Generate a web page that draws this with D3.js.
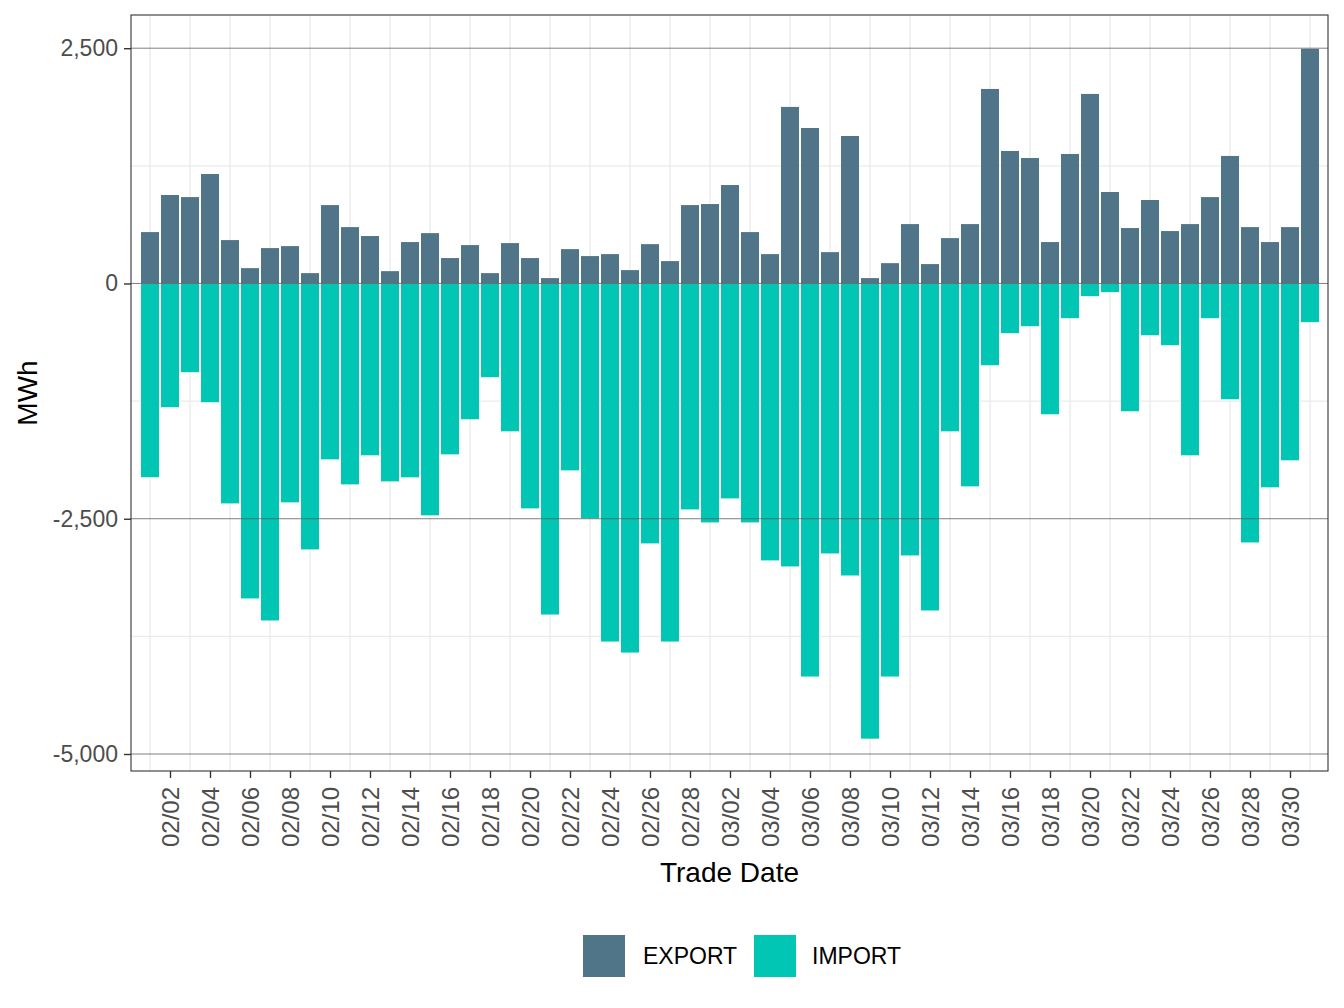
<!DOCTYPE html>
<html>
<head>
<meta charset="utf-8">
<script src="https://cdn.jsdelivr.net/npm/d3@7"></script>
<style>
  html, body { margin: 0; padding: 0; background: #ffffff; }
  svg { display: block; font-family: "Liberation Sans", Arial, Helvetica, sans-serif; }
</style>
</head>
<body>
<svg id="chart" width="1344" height="1008"></svg>
<script>
// ---------------- DATA ----------------
const tradeDates = [
  "2023-02-01","2023-02-02","2023-02-03","2023-02-04","2023-02-05","2023-02-06","2023-02-07","2023-02-08","2023-02-09","2023-02-10",
  "2023-02-11","2023-02-12","2023-02-13","2023-02-14","2023-02-15","2023-02-16","2023-02-17","2023-02-18","2023-02-19","2023-02-20",
  "2023-02-21","2023-02-22","2023-02-23","2023-02-24","2023-02-25","2023-02-26","2023-02-27","2023-02-28","2023-03-01","2023-03-02",
  "2023-03-03","2023-03-04","2023-03-05","2023-03-06","2023-03-07","2023-03-08","2023-03-09","2023-03-10","2023-03-11","2023-03-12",
  "2023-03-13","2023-03-14","2023-03-15","2023-03-16","2023-03-17","2023-03-18","2023-03-19","2023-03-20","2023-03-21","2023-03-22",
  "2023-03-23","2023-03-24","2023-03-25","2023-03-26","2023-03-27","2023-03-28","2023-03-29","2023-03-30","2023-03-31"
];
const exportMWh = [
  546, 940, 918, 1163, 461, 163, 376, 397, 110, 833, 599, 504, 131, 440, 535,
  270, 408, 110, 429, 270, 57, 365, 291, 312, 142, 418, 238, 833, 844, 1046,
  546, 312, 1876, 1652, 333, 1567, 57, 216, 631, 206, 482, 631, 2067, 1408, 1333,
  440, 1376, 2014, 972, 589, 887, 557, 631, 918, 1355, 599, 440, 599, 2493
];
const importMWh = [
  -2059, -1315, -943, -1262, -2337, -3347, -3581, -2326, -2826, -1869, -2135, -1826, -2103, -2060, -2464,
  -1816, -1443, -996, -1571, -2390, -3518, -1986, -2496, -3805, -3922, -2762, -3805, -2401, -2539, -2284,
  -2539, -2943, -3007, -4177, -2869, -3103, -4837, -4177, -2890, -3475, -1571, -2156, -869, -528, -454,
  -1390, -369, -135, -92, -1358, -550, -656, -1826, -369, -1230, -2752, -2166, -1879, -411
];
const seriesNames = ["EXPORT", "IMPORT"];
const seriesColors = ["#507589", "#00C6B3"];
const yTickValues = [-5000, -2500, 0, 2500];
const yMinorValues = [-3750, -1250, 1250];
const xTickLabels = [
  "02/02","02/04","02/06","02/08","02/10","02/12","02/14","02/16","02/18","02/20","02/22","02/24","02/26","02/28",
  "03/02","03/04","03/06","03/08","03/10","03/12","03/14","03/16","03/18","03/20","03/22","03/24","03/26","03/28","03/30"
];
const xLabel = "Trade Date";
const yLabel = "MWh";

// ---------------- LAYOUT ----------------
const panel = { left: 131, right: 1328, top: 15, bottom: 771 };
const DAY = 86400000;
const parseDate = d3.utcParse("%Y-%m-%d");
const dates = tradeDates.map(parseDate);
const tickDates = xTickLabels.map(l => parseDate("2023-" + l.replace("/", "-")));

const svg = d3.select("#chart");

const x = d3.scaleUtc()
  .domain([new Date(+dates[0] - 0.95 * DAY), new Date(+dates[dates.length - 1] + 0.9 * DAY)])
  .range([panel.left, panel.right]);
const y = d3.scaleLinear()
  .domain([-5000, 2500])
  .range([754.0, 48.2]);

const barHalf = 0.45 * DAY;

// panel background
svg.append("rect")
  .attr("x", panel.left).attr("y", panel.top)
  .attr("width", panel.right - panel.left).attr("height", panel.bottom - panel.top)
  .attr("fill", "#ffffff");

// minor grid lines (light)
const grid = svg.append("g");
grid.selectAll("line.hmin").data(yMinorValues).join("line")
  .attr("x1", panel.left).attr("x2", panel.right)
  .attr("y1", d => y(d)).attr("y2", d => y(d))
  .attr("stroke", "#ebebeb").attr("stroke-width", 1.4);
// vertical light lines at odd days (between labelled ticks)
const vDates = dates.filter((d, i) => i % 2 === 0);
grid.selectAll("line.v").data(vDates).join("line")
  .attr("x1", d => x(d)).attr("x2", d => x(d))
  .attr("y1", panel.top).attr("y2", panel.bottom)
  .attr("stroke", "#ebebeb").attr("stroke-width", 1.4);

// bars
const rows = dates.map((d, i) => ({ date: d, exp: exportMWh[i], imp: importMWh[i] }));
const bars = svg.append("g");
bars.selectAll("rect.exp").data(rows).join("rect")
  .attr("x", d => x(new Date(+d.date - barHalf)))
  .attr("width", d => x(new Date(+d.date + barHalf)) - x(new Date(+d.date - barHalf)))
  .attr("y", d => y(d.exp))
  .attr("height", d => y(0) - y(d.exp))
  .attr("fill", seriesColors[0]);
bars.selectAll("rect.imp").data(rows).join("rect")
  .attr("x", d => x(new Date(+d.date - barHalf)))
  .attr("width", d => x(new Date(+d.date + barHalf)) - x(new Date(+d.date - barHalf)))
  .attr("y", y(0))
  .attr("height", d => y(d.imp) - y(0))
  .attr("fill", seriesColors[1]);

// major horizontal lines (dark, on top)
svg.append("g").selectAll("line").data(yTickValues).join("line")
  .attr("x1", panel.left).attr("x2", panel.right)
  .attr("y1", d => y(d)).attr("y2", d => y(d))
  .attr("stroke", "#5e5e5e").attr("stroke-width", 0.8);

// panel border
svg.append("rect")
  .attr("x", panel.left).attr("y", panel.top)
  .attr("width", panel.right - panel.left).attr("height", panel.bottom - panel.top)
  .attr("fill", "none").attr("stroke", "#333333").attr("stroke-width", 1.1);

// axes
const loc = d3.formatLocale({ decimal: ".", thousands: ",", grouping: [3], currency: ["$", ""], minus: "-" });
const yAxis = d3.axisLeft(y).tickValues(yTickValues).tickFormat(loc.format(",")).tickSize(7).tickSizeOuter(0).tickPadding(6);
const gy = svg.append("g").attr("transform", `translate(${panel.left},0)`).call(yAxis);
gy.select(".domain").remove();
gy.selectAll(".tick line").attr("stroke", "#333333").attr("stroke-width", 1.4);
gy.selectAll(".tick text")
  .attr("fill", "#4d4d4d").attr("font-size", 23).attr("font-family", "Liberation Sans, Arial, sans-serif");

const xAxis = d3.axisBottom(x).tickValues(tickDates).tickFormat((d, i) => xTickLabels[i]).tickSize(7).tickSizeOuter(0);
const gx = svg.append("g").attr("transform", `translate(0,${panel.bottom})`).call(xAxis);
gx.select(".domain").remove();
gx.selectAll(".tick line").attr("stroke", "#333333").attr("stroke-width", 1.4);
gx.selectAll(".tick text")
  .attr("fill", "#4d4d4d").attr("font-size", 24).attr("font-family", "Liberation Sans, Arial, sans-serif")
  .attr("text-anchor", "end")
  .attr("transform", "translate(0,16) rotate(-90)")
  .attr("x", 0).attr("y", 0).attr("dy", "0.35em");

// axis titles
svg.append("text")
  .attr("x", (panel.left + panel.right) / 2).attr("y", 882)
  .attr("text-anchor", "middle").attr("font-size", 28).attr("fill", "#000")
  .text(xLabel);
svg.append("text")
  .attr("transform", `translate(37,${(panel.top + panel.bottom) / 2}) rotate(-90)`)
  .attr("text-anchor", "middle").attr("font-size", 28).attr("fill", "#000")
  .text(yLabel);

// legend
const legendItems = [
  { name: seriesNames[0], color: seriesColors[0], kx: 583, tx: 643 },
  { name: seriesNames[1], color: seriesColors[1], kx: 754, tx: 812 }
];
const lg = svg.append("g");
legendItems.forEach(it => {
  lg.append("rect").attr("x", it.kx).attr("y", 935).attr("width", 42).attr("height", 42).attr("fill", it.color);
  lg.append("text").attr("x", it.tx).attr("y", 964).attr("font-size", 23).attr("fill", "#000").text(it.name);
});
</script>
</body>
</html>
